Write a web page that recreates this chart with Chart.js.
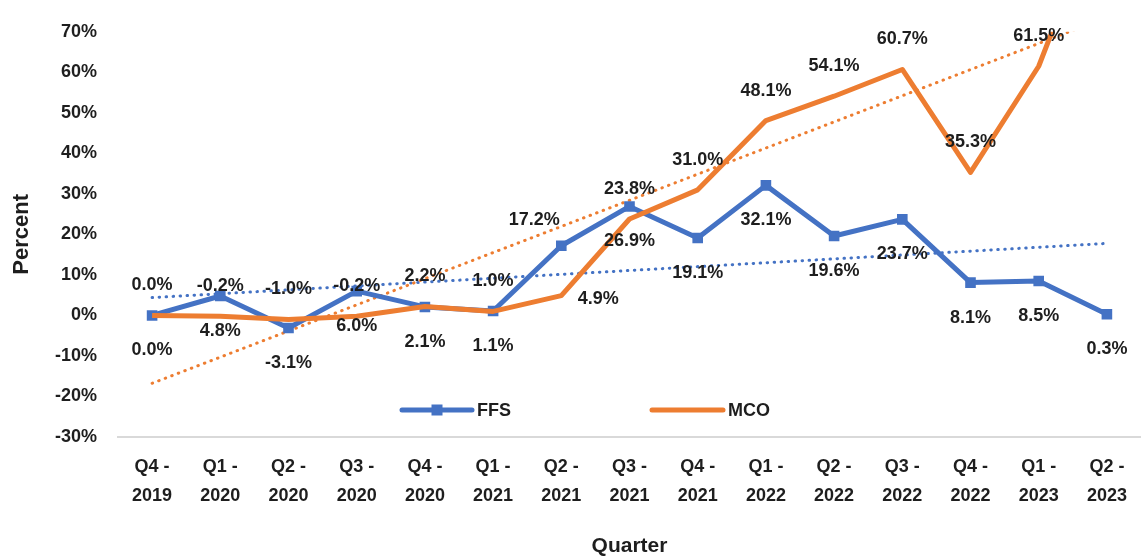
<!DOCTYPE html>
<html>
<head>
<meta charset="utf-8">
<script src="https://cdn.jsdelivr.net/npm/chart.js@4.4.1/dist/chart.umd.min.js"></script>
<style>
  html, body { margin: 0; padding: 0; background: #ffffff; }
  #wrap { width: 1141px; height: 559px; position: relative; }
</style>
</head>
<body>
<div id="wrap"><canvas id="c" width="1141" height="559"></canvas></div>
<script>
// ---- data ----
const categories = [
  ["Q4 -", "2019"], ["Q1 -", "2020"], ["Q2 -", "2020"], ["Q3 -", "2020"],
  ["Q4 -", "2020"], ["Q1 -", "2021"], ["Q2 -", "2021"], ["Q3 -", "2021"],
  ["Q4 -", "2021"], ["Q1 -", "2022"], ["Q2 -", "2022"], ["Q3 -", "2022"],
  ["Q4 -", "2022"], ["Q1 -", "2023"], ["Q2 -", "2023"]
];
const ffsValues = [0.0, 4.8, -3.1, 6.0, 2.1, 1.1, 17.2, 26.9, 19.1, 32.1, 19.6, 23.7, 8.1, 8.5, 0.3];
const mcoValues = [0.0, -0.2, -1.0, -0.2, 2.2, 1.0, 4.9, 23.8, 31.0, 48.1, 54.1, 60.7, 35.3, 61.5, 105.0];
const yTicks = [-30, -20, -10, 0, 10, 20, 30, 40, 50, 60, 70];
const seriesNames = ["FFS", "MCO"];
const xTitle = "Quarter";
const yTitle = "Percent";

const BLUE = "#4472C4";
const ORANGE = "#ED7D31";
const TEXT = "#1e1e1e";

// linear (least squares) trend of a series, as Excel's trendline
function linearTrend(vals) {
  const n = vals.length;
  let sx = 0, sy = 0, sxx = 0, sxy = 0;
  vals.forEach((v, i) => { sx += i; sy += v; sxx += i * i; sxy += i * v; });
  const b = (n * sxy - sx * sy) / (n * sxx - sx * sx);
  const a = (sy - b * sx) / n;
  return vals.map((_, i) => a + b * i);
}

// label placement: default FFS below, MCO above; a few exceptions
const labelPlace = {
  0: { def: "below", special: { 6: "left" } },
  1: { def: "above", special: { 6: "right" } }
};

const labelPlugin = {
  id: "pointLabels",
  afterDatasetsDraw(chart) {
    const ctx = chart.ctx;
    const area = chart.chartArea;
    ctx.save();
    ctx.font = "bold 18px 'Liberation Sans', Arial, sans-serif";
    ctx.fillStyle = TEXT;
    ctx.textAlign = "center";
    ctx.textBaseline = "middle";
    chart.data.datasets.forEach((ds, di) => {
      if (!ds.showLabels) return;
      const meta = chart.getDatasetMeta(di);
      const cfg = labelPlace[ds.seriesIndex];
      meta.data.forEach((pt, i) => {
        const v = ds.data[i];
        if (pt.y < area.top - 1 || pt.y > area.bottom + 1) return;
        const pos = cfg.special[i] || cfg.def;
        let x = pt.x, y = pt.y;
        if (pos === "below") y += 35;
        else if (pos === "above") y -= 30;
        else if (pos === "left") { x -= 27; y -= 26; }
        else if (pos === "right") { x += 37; y += 3; }
        ctx.fillText(v.toFixed(1) + "%", x, y);
      });
    });
    ctx.restore();
  }
};

const legendPlugin = {
  id: "innerLegend",
  afterDraw(chart) {
    const ctx = chart.ctx;
    ctx.save();
    const y = 410;
    const items = [
      { x0: 402, x1: 472, color: BLUE, marker: true, label: seriesNames[0] },
      { x0: 652, x1: 723, color: ORANGE, marker: false, label: seriesNames[1] }
    ];
    items.forEach(it => {
      ctx.strokeStyle = it.color;
      ctx.lineWidth = 5;
      ctx.lineCap = "round";
      ctx.beginPath(); ctx.moveTo(it.x0, y); ctx.lineTo(it.x1, y); ctx.stroke();
      if (it.marker) {
        ctx.fillStyle = it.color;
        const mx = (it.x0 + it.x1) / 2;
        ctx.fillRect(mx - 5.5, y - 5.5, 11, 11);
      }
      ctx.fillStyle = TEXT;
      ctx.font = "bold 18px 'Liberation Sans', Arial, sans-serif";
      ctx.textAlign = "left";
      ctx.textBaseline = "middle";
      ctx.fillText(it.label, it.x1 + 5, y + 1);
    });
    ctx.restore();
  }
};

const ffsTrend = linearTrend(ffsValues);
const mcoTrend = linearTrend(mcoValues);

new Chart(document.getElementById("c"), {
  type: "line",
  data: {
    labels: categories,
    datasets: [
      {
        label: seriesNames[1], data: mcoValues, seriesIndex: 1, showLabels: true,
        borderColor: ORANGE, backgroundColor: ORANGE, borderWidth: 5,
        pointRadius: 0, borderJoinStyle: "round", order: 0, tension: 0
      },
      {
        label: seriesNames[0], data: ffsValues, seriesIndex: 0, showLabels: true,
        borderColor: BLUE, backgroundColor: BLUE, borderWidth: 5,
        pointStyle: "rect", pointRadius: 7.5, pointBorderWidth: 0,
        borderJoinStyle: "round", order: 1, tension: 0
      },
      {
        label: "FFS trend", data: ffsTrend, borderColor: BLUE, borderWidth: 3,
        borderDash: [0.5, 6.5], borderCapStyle: "round", pointRadius: 0, order: 3
      },
      {
        label: "MCO trend", data: mcoTrend, borderColor: ORANGE, borderWidth: 3,
        borderDash: [0.5, 6.5], borderCapStyle: "round", pointRadius: 0, order: 2
      }
    ]
  },
  options: {
    responsive: false,
    animation: false,
    layout: { autoPadding: false, padding: { left: 0, right: 0, top: 17, bottom: 0 } },
    plugins: {
      legend: { display: false },
      tooltip: { enabled: false }
    },
    scales: {
      x: {
        offset: true,
        grid: { display: false, drawTicks: false },
        border: { display: true, color: "#d9d9d9", width: 2 },
        ticks: {
          color: TEXT, padding: 16, maxRotation: 0, autoSkip: false,
          font: { family: "'Liberation Sans Narrow', 'Liberation Sans', Arial, sans-serif", weight: "bold", size: 18, lineHeight: 1.6 }
        },
        title: {
          display: true, text: xTitle, color: TEXT, padding: { top: 1, bottom: 0 },
          font: { family: "'Liberation Sans Narrow', 'Liberation Sans', Arial, sans-serif", weight: "bold", size: 21, lineHeight: 1.2 }
        },
        afterFit(scale) { scale.height = 122; scale.paddingLeft = 0; scale.paddingRight = 0; }
      },
      y: {
        min: -30, max: 70,
        afterBuildTicks(scale) { scale.ticks = yTicks.map(v => ({ value: v })); },
        grid: { display: false, drawTicks: false },
        border: { display: false },
        ticks: {
          color: TEXT, padding: 21,
          font: { family: "'Liberation Sans', Arial, sans-serif", weight: "bold", size: 18 },
          callback: v => v + "%"
        },
        title: {
          display: true, text: yTitle, color: TEXT, padding: { top: 9, bottom: 0 },
          font: { family: "'Liberation Sans', Arial, sans-serif", weight: "bold", size: 22, lineHeight: 1.2 }
        },
        afterFit(scale) { scale.width = 118; }
      }
    }
  },
  plugins: [labelPlugin, legendPlugin]
});
</script>
</body>
</html>
